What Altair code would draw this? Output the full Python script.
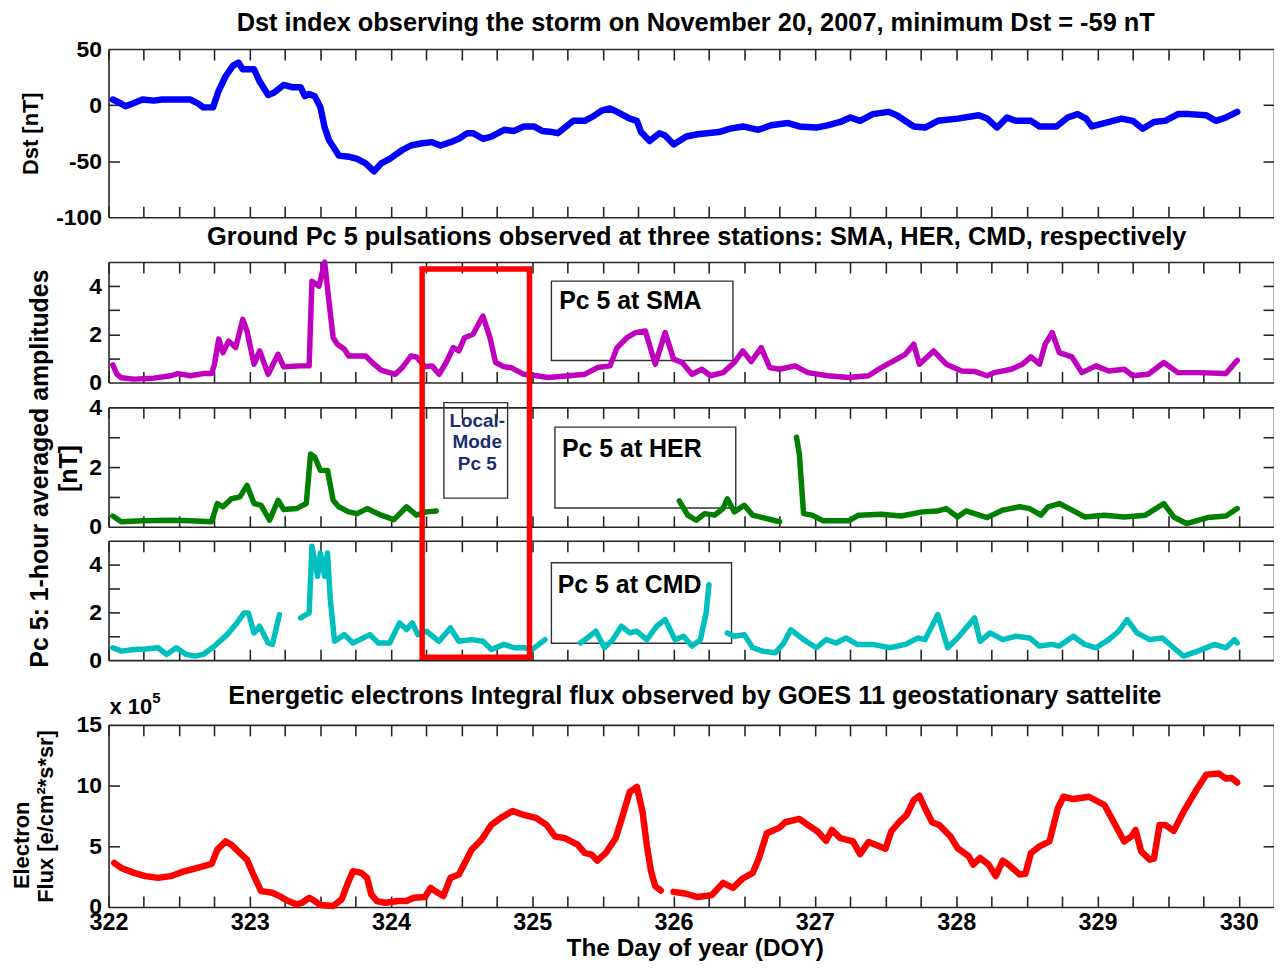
import altair as alt
import pandas as pd

# ---------------- data ----------------
DST_DOY = [322.03, 322.08, 322.12, 322.18, 322.24, 322.32, 322.38, 322.49, 322.58, 322.64,
           322.67, 322.74, 322.78, 322.83, 322.88, 322.92, 322.95, 323.03, 323.07, 323.13,
           323.17, 323.24, 323.30, 323.36, 323.39, 323.42, 323.46, 323.50, 323.53, 323.56,
           323.59, 323.63, 323.70, 323.76, 323.82, 323.88, 323.93, 323.99, 324.08, 324.14,
           324.22, 324.29, 324.35, 324.42, 324.48, 324.54, 324.58, 324.65, 324.71, 324.80,
           324.87, 324.94, 325.01, 325.07, 325.14, 325.18, 325.24, 325.29, 325.37, 325.43,
           325.49, 325.55, 325.60, 325.69, 325.74, 325.77, 325.83, 325.90, 325.94, 326.00,
           326.09, 326.17, 326.32, 326.40, 326.49, 326.60, 326.69, 326.81, 326.89, 327.01,
           327.09, 327.18, 327.25, 327.32, 327.41, 327.52, 327.58, 327.70, 327.78, 327.87,
           328.01, 328.16, 328.22, 328.29, 328.36, 328.42, 328.53, 328.59, 328.71, 328.79,
           328.86, 328.92, 328.96, 329.05, 329.17, 329.25, 329.32, 329.40, 329.48, 329.57,
           329.65, 329.77, 329.84, 329.91, 329.99]
DST_VAL = [5, 2, -1, 2, 5, 4, 5, 5, 5, 1,
           -2, -2, 13, 26, 35, 38, 32, 32, 21, 9,
           11, 18, 16, 16, 8, 10, 8, -2, -20, -31,
           -37, -45, -46, -48, -52, -59, -52, -48, -40, -36,
           -34, -33, -36, -33, -30, -25, -25, -30, -28, -22,
           -23, -19, -19, -23, -24, -25, -19, -14, -14, -10,
           -5, -3, -6, -12, -14, -24, -32, -25, -27, -35,
           -28, -26, -24, -21, -19, -22, -18, -16, -19, -20,
           -18, -15, -11, -14, -8, -6, -9, -19, -20, -14,
           -12, -9, -12, -20, -11, -14, -14, -19, -19, -11,
           -8, -12, -19, -16, -12, -14, -21, -15, -14, -8,
           -8, -9, -14, -11, -6]

SMA_DOY = [322.03, 322.06, 322.09, 322.18, 322.32, 322.44, 322.49, 322.58, 322.67, 322.73,
           322.75, 322.78, 322.81, 322.85, 322.90, 322.95, 322.98, 323.03, 323.07, 323.13,
           323.20, 323.24, 323.36, 323.42, 323.44, 323.49, 323.53, 323.56, 323.59, 323.62,
           323.67, 323.70, 323.82, 323.88, 323.93, 324.03, 324.08, 324.14, 324.18, 324.24,
           324.29, 324.34, 324.39, 324.44, 324.48, 324.52, 324.58, 324.65, 324.70, 324.74,
           324.80, 324.85, 324.94, 325.03, 325.11, 325.26, 325.37, 325.46, 325.55, 325.60,
           325.67, 325.73, 325.80, 325.87, 325.94, 326.00, 326.06, 326.13, 326.20, 326.26,
           326.35, 326.43, 326.49, 326.55, 326.62, 326.68, 326.75, 326.86, 326.95, 327.09,
           327.24, 327.38, 327.47, 327.58, 327.64, 327.70, 327.74, 327.84, 327.93, 328.04,
           328.13, 328.22, 328.27, 328.39, 328.47, 328.53, 328.59, 328.63, 328.68, 328.73,
           328.82, 328.89, 328.99, 329.08, 329.19, 329.25, 329.36, 329.47, 329.57, 329.71,
           329.91, 329.99]
SMA_VAL = [0.73, 0.34, 0.2, 0.14, 0.18, 0.28, 0.37, 0.28, 0.37, 0.37,
           0.76, 1.8, 1.24, 1.72, 1.45, 2.62, 2.14, 0.76, 1.31, 0.34,
           1.17, 0.65, 0.69, 0.69, 4.2, 4.0, 5.0, 3.38, 1.86, 1.59,
           1.38, 1.1, 1.1, 0.76, 0.51, 0.34, 0.62, 1.1, 1.06, 0.65,
           0.69, 0.34, 0.83, 1.45, 1.31, 1.86, 2.0, 2.76, 1.86, 0.83,
           0.65, 0.62, 0.34, 0.28, 0.21, 0.28, 0.34, 0.62, 0.69, 1.45,
           1.86, 2.07, 2.14, 0.76, 2.07, 0.97, 0.83, 0.34, 0.55, 0.28,
           0.41, 0.83, 1.31, 0.87, 1.45, 0.62, 0.55, 0.69, 0.41, 0.28,
           0.21, 0.28, 0.62, 0.97, 1.17, 1.59, 0.76, 1.31, 0.76, 0.48,
           0.46, 0.28, 0.41, 0.55, 0.76, 1.06, 0.76, 1.59, 2.07, 1.24,
           1.06, 0.41, 0.69, 0.48, 0.55, 0.28, 0.34, 0.83, 0.41, 0.41,
           0.37, 0.92]

# None marks a data gap
HER_DOY = [322.03, 322.09, 322.24, 322.44, 322.58, 322.73, 322.77, 322.81, 322.87, 322.93,
           322.98, 323.03, 323.08, 323.14, 323.20, 323.24, 323.33, 323.40, 323.43, 323.46,
           323.50, 323.55, 323.59, 323.63, 323.70, 323.76, 323.83, 323.93, 324.02, 324.11,
           324.18, 324.25, 324.32, None,
           326.04, 326.10, 326.16, 326.22, 326.29, 326.35, 326.38, 326.43, 326.50, 326.56,
           326.63, 326.75, None,
           326.87, 326.89, 326.92, 326.98, 327.06, 327.24, 327.31, 327.47, 327.61, 327.76,
           327.87, 327.93, 328.01, 328.07, 328.22, 328.33, 328.45, 328.52, 328.60, 328.65,
           328.73, 328.82, 328.91, 329.05, 329.19, 329.34, 329.47, 329.54, 329.63, 329.78,
           329.91, 329.99]
HER_VAL = [0.36, 0.17, 0.2, 0.22, 0.2, 0.17, 0.78, 0.67, 0.94, 1.0,
           1.39, 0.78, 0.72, 0.22, 0.89, 0.58, 0.61, 0.78, 2.44, 2.33,
           1.89, 1.89, 0.89, 0.67, 0.5, 0.44, 0.61, 0.39, 0.24, 0.67,
           0.39, 0.5, 0.53, None,
           0.87, 0.39, 0.22, 0.44, 0.39, 0.61, 0.94, 0.5, 0.72, 0.39,
           0.31, 0.17, None,
           3.0, 2.44, 0.44, 0.39, 0.2, 0.2, 0.39, 0.42, 0.36, 0.5,
           0.53, 0.61, 0.33, 0.53, 0.31, 0.56, 0.67, 0.61, 0.39, 0.67,
           0.78, 0.56, 0.33, 0.39, 0.33, 0.39, 0.78, 0.33, 0.11, 0.31,
           0.36, 0.61]

CMD_DOY = [322.03, 322.09, 322.18, 322.26, 322.35, 322.41, 322.48, 322.55, 322.61, 322.67,
           322.75, 322.84, 322.90, 322.96, 322.99, 323.03, 323.07, 323.13, 323.16, 323.21, None,
           323.36, 323.42, 323.44, 323.48, 323.50, 323.53, 323.55, 323.57, 323.60, 323.67,
           323.73, 323.85, 323.91, 323.99, 324.06, 324.11, 324.15, 324.19, 324.25, 324.34,
           324.42, 324.48, 324.57, 324.65, 324.71, 324.80, 324.87, 324.94, 325.00, 325.09, None,
           325.34, 325.39, 325.45, 325.51, 325.57, 325.63, 325.69, 325.74, 325.81, 325.88,
           325.94, 326.01, 326.07, 326.13, 326.19, 326.23, 326.25, None,
           326.38, 326.43, 326.50, 326.56, 326.63, 326.72, 326.78, 326.83, 326.92, 327.01,
           327.08, 327.15, 327.22, 327.30, 327.41, 327.53, 327.64, 327.73, 327.78, 327.87,
           327.94, 328.01, 328.10, 328.13, 328.17, 328.24, 328.33, 328.42, 328.52, 328.59,
           328.68, 328.73, 328.83, 328.91, 328.99, 329.08, 329.15, 329.21, 329.28, 329.37,
           329.46, 329.54, 329.61, 329.71, 329.83, 329.91, 329.97, 329.99]
CMD_VAL = [0.52, 0.38, 0.45, 0.47, 0.52, 0.24, 0.52, 0.24, 0.17, 0.24,
           0.59, 1.07, 1.49, 1.98, 1.98, 1.14, 1.42, 0.72, 0.66, 1.91, None,
           1.77, 1.98, 4.77, 3.51, 4.49, 3.51, 4.49, 2.54, 0.79, 1.07,
           0.72, 1.07, 0.72, 0.72, 1.56, 1.28, 1.56, 1.07, 1.21, 0.79,
           1.35, 0.79, 0.86, 0.79, 0.45, 0.66, 0.52, 0.52, 0.45, 0.86, None,
           0.72, 0.93, 1.21, 0.52, 0.86, 1.42, 1.14, 1.21, 0.86, 1.42,
           1.70, 0.86, 1.0, 0.59, 0.86, 1.98, 3.16, None,
           1.14, 1.0, 1.07, 0.52, 0.38, 0.31, 0.72, 1.28, 0.86, 0.52,
           0.86, 0.72, 0.93, 0.66, 0.66, 0.52, 0.66, 0.93, 0.86, 1.91,
           0.52, 0.93, 1.56, 1.77, 0.79, 1.14, 0.86, 1.0, 0.93, 0.59,
           0.66, 0.59, 1.0, 0.66, 0.52, 0.86, 1.21, 1.70, 1.14, 0.86,
           0.93, 0.52, 0.17, 0.38, 0.66, 0.52, 0.86, 0.72]

# electron flux in units of 10^5
FLUX_DOY = [322.04, 322.09, 322.18, 322.26, 322.35, 322.44, 322.52, 322.61, 322.73, 322.77,
            322.83, 322.87, 322.93, 322.98, 323.03, 323.08, 323.16, 323.21, 323.26, 323.33,
            323.37, 323.42, 323.46, 323.50, 323.59, 323.65, 323.69, 323.73, 323.79, 323.83,
            323.86, 323.90, 323.96, 324.05, 324.11, 324.16, 324.24, 324.28, 324.32, 324.37,
            324.42, 324.48, 324.57, 324.64, 324.71, 324.78, 324.86, 324.94, 325.03, 325.10,
            325.16, 325.23, 325.32, 325.37, 325.42, 325.46, 325.52, 325.59, 325.63, 325.69,
            325.74, 325.78, 325.81, 325.84, 325.87, 325.91, None,
            326.00, 326.09, 326.17, 326.27, 326.35, 326.42, 326.49, 326.56, 326.60, 326.66,
            326.75, 326.79, 326.89, 326.95, 327.02, 327.08, 327.12, 327.18, 327.27, 327.32,
            327.38, 327.50, 327.54, 327.60, 327.65, 327.70, 327.74, 327.78, 327.83, 327.88,
            327.96, 328.01, 328.09, 328.12, 328.17, 328.23, 328.28, 328.33, 328.37, 328.45,
            328.49, 328.53, 328.59, 328.66, 328.72, 328.76, 328.83, 328.94, 329.05, 329.12,
            329.19, 329.24, 329.27, 329.31, 329.37, 329.40, 329.44, 329.48, 329.54, 329.61,
            329.70, 329.77, 329.86, 329.91, 329.95, 329.99]
FLUX_VAL = [3.63, 3.22, 2.81, 2.54, 2.40, 2.54, 2.89, 3.16, 3.55, 4.72,
            5.4, 5.13, 4.45, 3.9, 2.54, 1.31, 1.17, 0.9, 0.55, 0.22,
            0.35, 0.76, 0.49, 0.16, 0.08, 0.63, 1.85, 2.95, 2.81, 2.40,
            1.04, 0.49, 0.35, 0.49, 0.49, 0.76, 0.82, 1.58, 1.25, 0.9,
            2.40, 2.67, 4.72, 5.54, 6.76, 7.36, 7.91, 7.58, 7.31, 6.76,
            5.81, 5.67, 5.13, 4.45, 4.31, 3.82, 4.45, 5.67, 7.17, 9.49,
            9.9, 7.85, 5.13, 2.95, 1.72, 1.36, None,
            1.25, 1.09, 0.82, 0.98, 1.99, 1.58, 2.35, 2.81, 3.9, 6.08,
            6.54, 6.98, 7.25, 6.76, 6.22, 5.45, 6.35, 5.67, 5.40, 4.36,
            5.35, 4.8, 6.22, 7.04, 7.58, 8.81, 9.16, 8.13, 6.98, 6.76,
            5.81, 4.85, 4.17, 3.49, 4.04, 3.49, 2.54, 3.82, 3.49, 2.67,
            2.73, 4.45, 4.99, 5.4, 8.13, 9.08, 8.89, 9.08, 8.4, 6.9,
            5.4, 5.81, 6.35, 4.58, 3.9, 3.98, 6.76, 6.76, 6.27, 7.85,
            9.63, 10.9, 10.99, 10.58, 10.63, 10.25]

X_TICKS = [322.0, 322.25, 322.5, 322.75, 323.0, 323.25, 323.5, 323.75, 324.0, 324.25,
           324.5, 324.75, 325.0, 325.25, 325.5, 325.75, 326.0, 326.25, 326.5, 326.75,
           327.0, 327.25, 327.5, 327.75, 328.0, 328.25, 328.5, 328.75, 329.0, 329.25,
           329.5, 329.75, 330.0]
X_LABELS = [322, 323, 324, 325, 326, 327, 328, 329, 330]

TITLES = ["Dst index observing the storm on November 20, 2007, minimum Dst = -59 nT",
          "Ground Pc 5 pulsations observed at three stations: SMA, HER, CMD, respectively",
          "Energetic electrons Integral flux observed by GOES 11 geostationary sattelite"]

# annotation boxes (x in DOY, y in each panel's own units)
STATION_LABELS = ["Pc 5 at SMA", "Pc 5 at HER", "Pc 5 at CMD"]
BOX_X0 = [325.135, 325.16, 325.135]
BOX_X1 = [326.42, 326.44, 326.41]
BOX_Y0 = [0.91, 0.63, 0.71]
BOX_Y1 = [4.21, 3.34, 4.08]
LABEL_X = [325.19, 325.21, 325.18]
LABEL_Y = [3.06, 2.33, 2.82]
LOCAL_TEXT = ["Local-", "Mode", "Pc 5"]
LOCAL_BOX_X = [324.374, 324.825]
LOCAL_BOX_Y = [0.96, 4.16]
LOCAL_TEXT_XY = [324.61, 3.34]
RED_BOX_X = [324.22, 324.98]

# ---------------- layout / style ----------------
FONT = "Liberation Sans"
EDGE = "#262626"
W, H = 1171, 862
XS = alt.Scale(domain=[322, 330.25], nice=False, zero=False)


def series(doy, val):
    rows, seg = [], 0
    for d, v in zip(doy, val):
        if v is None:
            seg += 1
            continue
        rows.append({"doy": d, "v": v, "seg": seg})
    return pd.DataFrame(rows)


def edge_axis(**kw):
    base = dict(grid=False, domainColor=EDGE, domainWidth=1.6, tickColor=EDGE,
                tickWidth=1.6, tickSize=11, labels=False, title=None)
    base.update(kw)
    return alt.Axis(**base)


LABEL_EXPR = "datum.value < 0 ? '-' + abs(datum.value) : '' + datum.value"


def panel(df, dom, top, bot, color, sw, lab_vals, tick_vals, title_kw):
    ys = alt.Scale(domain=dom, range=[bot, top], nice=False, zero=False)
    base = alt.Chart(df)
    left_axis = dict(orient="left", values=lab_vals, ticks=False, grid=False,
                     domainColor=EDGE, domainWidth=1.6, labelFont=FONT,
                     labelFontSize=23, labelFontWeight="bold", labelColor="black",
                     labelPadding=7, labelExpr=LABEL_EXPR)
    left_axis.update(title_kw)
    main = base.mark_line(color=color, strokeWidth=sw, strokeJoin="round",
                          strokeCap="round").encode(
        x=alt.X("doy:Q", scale=XS,
                axis=edge_axis(orient="top", offset=-bot, values=X_TICKS)),
        y=alt.Y("v:Q", scale=ys, axis=alt.Axis(**left_axis)),
        detail="seg:N",
    )
    edge2 = base.mark_line(strokeOpacity=0).encode(
        x=alt.X("doy:Q", scale=XS,
                axis=edge_axis(orient="bottom", offset=top - H, values=X_TICKS)),
        y=alt.Y("v:Q", scale=ys,
                axis=edge_axis(orient="left", offset=-W, values=tick_vals)),
        detail="seg:N",
    )
    edge3 = base.mark_line(strokeOpacity=0).encode(
        x=alt.X("doy:Q", scale=XS, axis=None),
        y=alt.Y("v:Q", scale=ys,
                axis=edge_axis(orient="right", offset=-W, values=tick_vals, domain=False)),
        detail="seg:N",
    )
    return ys, [edge2, edge3], main


def ytitle(text, tx, ty, size, lh=None):
    kw = dict(title=text, titleFont=FONT, titleFontSize=size, titleFontWeight="bold",
              titleColor="black", titleAngle=-90, titleX=tx, titleY=ty,
              titleAlign="center", titleBaseline="middle")
    if lh is not None:
        kw["titleLineHeight"] = lh
    return kw


NOTITLE = dict(title=None)

dst_df = series(DST_DOY, DST_VAL)
sma_df = series(SMA_DOY, SMA_VAL)
her_df = series(HER_DOY, HER_VAL)
cmd_df = series(CMD_DOY, CMD_VAL)
flux_df = series(FLUX_DOY, FLUX_VAL)

ys_dst, e_dst, m_dst = panel(dst_df, [-100, 50], 0, 169, "#0000ff", 6.5,
                             [-100, -50, 0, 50], [-50, 0],
                             ytitle("Dst [nT]", -78, 84.5, 22))
ys_sma, e_sma, m_sma = panel(sma_df, [0, 5], 214, 335, "#bf00bf", 5.5,
                             [0, 2, 4], [1, 2, 3, 4], NOTITLE)
ys_her, e_her, m_her = panel(her_df, [0, 4], 360, 480, "#007f00", 5.5,
                             [0, 2, 4], [1, 2, 3],
                             ytitle(["Pc 5: 1-hour averaged amplitudes", "[nT]"],
                                    -69, 421, 25, 29))
ys_cmd, e_cmd, m_cmd = panel(cmd_df, [0, 5], 494, 614, "#00bfbf", 5.5,
                             [0, 2, 4], [1, 2, 3, 4], NOTITLE)
ys_flux, e_flux, m_flux = panel(flux_df, [0, 15], 679, 862, "#ff0000", 6.5,
                                [0, 5, 10, 15], [5, 10],
                                ytitle("Flux [e/cm\u00b2*s*sr]", -63, 770.5, 22))

# bottom DOY axis with labels and title
bottom_axis = alt.Chart(flux_df).mark_line(strokeOpacity=0).encode(
    x=alt.X("doy:Q", scale=XS,
            axis=alt.Axis(orient="bottom", values=X_LABELS, format="d", ticks=False,
                          domain=False, grid=False, labelFlush=False, labelFont=FONT,
                          labelFontSize=23.5, labelFontWeight="bold", labelColor="black",
                          labelPadding=4, title="The Day of year (DOY)", titleFont=FONT,
                          titleFontSize=24.5, titleFontWeight="bold", titleColor="black",
                          titleX=589, titleY=41.5, titleAlign="center",
                          titleBaseline="middle")),
    y=alt.Y("v:Q", scale=ys_flux, axis=None),
    detail="seg:N",
)

# station boxes
station_layers = []
for i, ys in enumerate([ys_sma, ys_her, ys_cmd]):
    bdf = pd.DataFrame({"x0": [BOX_X0[i]], "x1": [BOX_X1[i]],
                        "y0": [BOX_Y0[i]], "y1": [BOX_Y1[i]],
                        "lx": [LABEL_X[i]], "ly": [LABEL_Y[i]],
                        "t": [STATION_LABELS[i]]})
    station_layers.append(
        alt.Chart(bdf).mark_rect(fill="white", fillOpacity=0, stroke="#333333",
                                 strokeWidth=1.4).encode(
            x=alt.X("x0:Q", scale=XS, axis=None), x2="x1:Q",
            y=alt.Y("y0:Q", scale=ys, axis=None), y2="y1:Q"))
    station_layers.append(
        alt.Chart(bdf).mark_text(align="left", baseline="alphabetic", font=FONT,
                                 fontSize=25, fontWeight="bold", color="black").encode(
            x=alt.X("lx:Q", scale=XS, axis=None),
            y=alt.Y("ly:Q", scale=ys, axis=None),
            text="t:N"))

local_df = pd.DataFrame({"x0": [LOCAL_BOX_X[0]], "x1": [LOCAL_BOX_X[1]],
                         "y0": [LOCAL_BOX_Y[0]], "y1": [LOCAL_BOX_Y[1]],
                         "tx": [LOCAL_TEXT_XY[0]], "ty": [LOCAL_TEXT_XY[1]]})
local_box = alt.Chart(local_df).mark_rect(fill="white", fillOpacity=0, stroke="#333333",
                                          strokeWidth=1.4).encode(
    x=alt.X("x0:Q", scale=XS, axis=None), x2="x1:Q",
    y=alt.Y("y0:Q", scale=ys_her, axis=None), y2="y1:Q")
local_text = alt.Chart(local_df).mark_text(
    text=LOCAL_TEXT, align="center", baseline="alphabetic",
    font="Liberation Sans Narrow, Liberation Sans", fontSize=19, fontWeight="bold",
    color="#1c2e72", lineHeight=21.5).encode(
    x=alt.X("tx:Q", scale=XS, axis=None),
    y=alt.Y("ty:Q", scale=ys_her, axis=None))

red_df = pd.DataFrame({"x0": [RED_BOX_X[0]], "x1": [RED_BOX_X[1]]})
red_box = alt.Chart(red_df).mark_rect(fill="white", fillOpacity=0, stroke="#ff0000",
                                      strokeWidth=5.5).encode(
    x=alt.X("x0:Q", scale=XS, axis=None), x2="x1:Q",
    y=alt.value(221), y2=alt.value(611))

one = pd.DataFrame({"k": [0]})


def free_text(text, x, y, size, align="center", baseline="alphabetic", angle=0):
    return alt.Chart(one).mark_text(text=text, align=align, baseline=baseline,
                                    font=FONT, fontSize=size, fontWeight="bold",
                                    color="black", angle=angle).encode(
        x=alt.value(x), y=alt.value(y))


titles = [
    free_text(TITLES[0], 590, -18, 25.5),
    free_text(TITLES[1], 591, 197, 25.5),
    free_text(TITLES[2], 589, 658, 25.5),
    free_text("x 10", 1, 668, 22, align="left"),
    free_text("5", 44, 657, 15, align="left"),
    free_text("Electron", -87, 800, 22, baseline="middle", angle=270),
]

layers = (e_dst + e_sma + e_her + e_cmd + e_flux + [bottom_axis]
          + station_layers + [local_box, local_text]
          + [m_dst, m_sma, m_her, m_cmd, m_flux, red_box] + titles)

chart = alt.layer(*layers).resolve_scale(
    x="shared", y="independent"
).resolve_axis(
    x="independent", y="independent"
).properties(
    width=W, height=H,
    autosize=alt.AutoSizeParams(type="none"),
    padding={"left": 101, "top": 39, "right": 0, "bottom": 54},
    background="white",
).configure_view(strokeWidth=0).configure_axis(grid=False)

chart.save("out.html", embed_options={"renderer": "svg", "actions": False})
